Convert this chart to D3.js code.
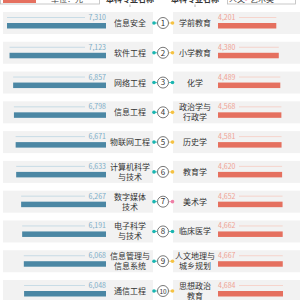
<!DOCTYPE html>
<html lang="zh">
<head>
<meta charset="UTF-8">
<title>本科专业学费对比</title>
<style>
  body, html { margin: 0; padding: 0; background: #ffffff; }
  svg { display: block; }
  text { font-family: "Noto Sans CJK SC", "Noto Sans", sans-serif; }
</style>
</head>
<body>
<svg id="svg" width="300" height="300"></svg>
<script src="https://d3js.org/d3.v7.min.js"></script>
<script>
// left: highest tuition majors, right: lowest
const leftNames = ['信息安全', '软件工程', '网络工程', '信息工程', '物联网工程', '计算机科学\n与技术', '数字媒体\n技术', '电子科学\n与技术', '信息管理与\n信息系统', '通信工程'];
const leftValues = [7310, 7123, 6857, 6798, 6671, 6633, 6267, 6191, 6068, 6048];
const rightNames = ['学前教育', '小学教育', '化学', '政治学与\n行政学', '历史学', '教育学', '美术学', '临床医学', '人文地理与\n城乡规划', '思想政治\n教育'];
const rightValues = [4201, 4380, 4489, 4568, 4581, 4620, 4652, 4662, 4667, 4684];
const rightType = ['文', '文', '理', '文', '文', '文', '艺', '理', '文', '文'];
const ranks = d3.range(1, 11);

const typeColor = {'理': '#19b5b0', '文': '#f5c242', '艺': '#ef7fa6'};
const blue = '#4b87a4', blueLight = '#7eaec8', blueLine = '#bcd5e2';
const red = '#e5705f', redLight = '#f0a394', redLine = '#f6cbc2';

const svg = d3.select('#svg');

const y = d3.scaleLinear().domain([1, 10]).range([23, 291]);
const xL = d3.scaleLinear().domain([0, 7310]).range([0, 99]);
const xR = d3.scaleLinear().domain([0, 4684]).range([0, 65]);
const leftEnd = 106, rightStart = 218;

// header (mostly cut off at the top)
const head = svg.append('g');
head.append('rect').attr('x', 0.5).attr('y', -14).attr('width', 99).attr('height', 18)
  .attr('fill', 'none').attr('stroke', '#bbb').attr('stroke-width', 0.8);
head.append('rect').attr('x', 3).attr('y', -12).attr('width', 33).attr('height', 15).attr('fill', red);
head.append('text').attr('x', 67).attr('y', 2).attr('text-anchor', 'middle')
  .attr('font-size', 8).attr('fill', '#444').text('单位：元');
[130, 195].forEach(cx => {
  head.append('text').attr('x', cx).attr('y', 2).attr('text-anchor', 'middle')
    .attr('font-size', 8).attr('font-weight', 'bold').attr('fill', '#333').text('本科专业名称');
  head.append('line').attr('x1', cx).attr('x2', cx).attr('y1', 4.5).attr('y2', 7)
    .attr('stroke', '#999').attr('stroke-width', 0.8);
});
head.append('rect').attr('x', 227.5).attr('y', -14).attr('width', 68).attr('height', 18)
  .attr('fill', 'none').attr('stroke', '#bbb').attr('stroke-width', 0.8);
head.append('text').attr('x', 229).attr('y', 2).attr('font-size', 8).attr('fill', '#444').text('人文');
head.append('circle').attr('cx', 246).attr('cy', -1).attr('r', 1.6).attr('fill', typeColor['艺']);
head.append('text').attr('x', 250).attr('y', 2).attr('font-size', 8).attr('fill', '#444').text('艺术类');

const rows = svg.append('g').selectAll('g').data(ranks).join('g')
  .attr('transform', d => `translate(0,${y(d)})`);

// background bands
rows.append('rect').attr('x', 3).attr('y', -11).attr('width', 150).attr('height', 22).attr('fill', '#f2f2f2');
rows.append('rect').attr('x', 173).attr('y', -11).attr('width', 127).attr('height', 22).attr('fill', '#f2f2f2');

// left bars
rows.append('rect')
  .attr('x', d => leftEnd - xL(leftValues[d - 1])).attr('y', 0)
  .attr('width', d => xL(leftValues[d - 1])).attr('height', 5.5).attr('fill', blue);
rows.append('text').attr('x', leftEnd).attr('y', -3).attr('text-anchor', 'end')
  .attr('font-size', 7).attr('fill', blueLight).text(d => d3.format(',')(leftValues[d - 1]));
rows.append('line')
  .attr('x1', d => leftEnd - xL(leftValues[d - 1])).attr('x2', leftEnd - 21)
  .attr('y1', -5.5).attr('y2', -5.5).attr('stroke', blueLine).attr('stroke-width', 0.8);

// right bars
rows.append('rect').attr('x', rightStart).attr('y', 0)
  .attr('width', d => xR(rightValues[d - 1])).attr('height', 5.5).attr('fill', red);
rows.append('text').attr('x', rightStart).attr('y', -3)
  .attr('font-size', 7).attr('fill', redLight).text(d => d3.format(',')(rightValues[d - 1]));
rows.append('line')
  .attr('x1', rightStart + 21).attr('x2', d => rightStart + xR(rightValues[d - 1]))
  .attr('y1', -5.5).attr('y2', -5.5).attr('stroke', redLine).attr('stroke-width', 0.8);

// labels
function label(sel, x, names) {
  sel.append('text').attr('x', x).attr('text-anchor', 'middle')
    .attr('font-size', 8).attr('fill', '#333')
    .each(function(d) {
      const parts = names[d - 1].split('\n');
      const t = d3.select(this);
      parts.forEach((p, i) => {
        t.append('tspan').attr('x', x)
          .attr('y', 3 + (i - (parts.length - 1) / 2) * 10)
          .text(p);
      });
    });
}
label(rows, 130, leftNames);
label(rows, 195, rightNames);

// connectors
rows.append('line').attr('x1', 154).attr('x2', 157.5).attr('y1', 0).attr('y2', 0)
  .attr('stroke', typeColor['理']).attr('stroke-width', 0.8);
rows.append('line').attr('x1', 168.5).attr('x2', 172).attr('y1', 0).attr('y2', 0)
  .attr('stroke', d => typeColor[rightType[d - 1]]).attr('stroke-width', 0.8);
rows.append('circle').attr('cx', 154).attr('cy', 0).attr('r', 1.8).attr('fill', typeColor['理']);
rows.append('circle').attr('cx', 172.5).attr('cy', 0).attr('r', 1.8)
  .attr('fill', d => typeColor[rightType[d - 1]]);
rows.append('circle').attr('cx', 163).attr('cy', 0).attr('r', 5.5)
  .attr('fill', '#fff').attr('stroke', '#555').attr('stroke-width', 0.8);
rows.append('text').attr('x', 163).attr('y', 2.8).attr('text-anchor', 'middle')
  .attr('font-family', 'DejaVu Sans, sans-serif')
  .attr('font-size', d => d < 10 ? 8 : 6.5).attr('fill', '#333').text(d => d);
</script>
</body>
</html>
